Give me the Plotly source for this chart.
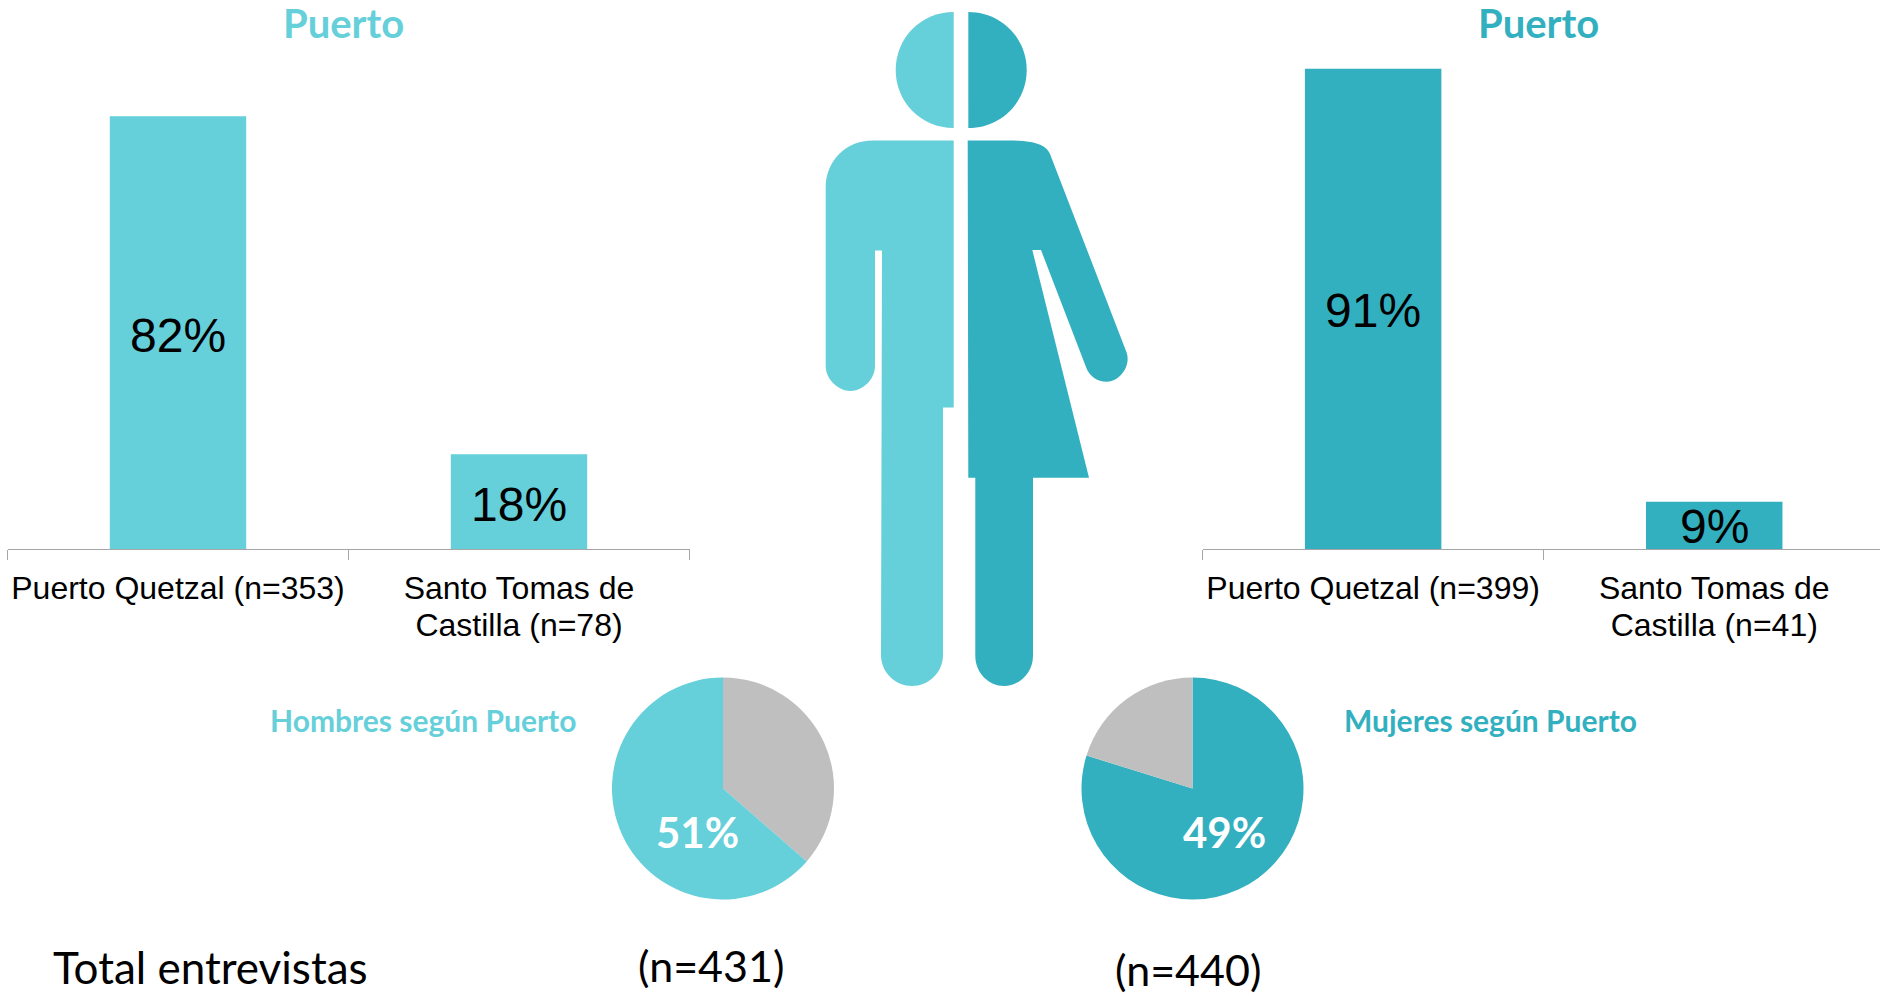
import plotly.graph_objects as go

W, H = 1880, 994
LIGHT = "#65CFDA"
DARK = "#33B0BF"
GREY = "#BFBFBF"

# Data
men_ports = [["Puerto Quetzal (n=353)"], ["Santo Tomas de", "Castilla (n=78)"]]
men_values = [82, 18]
men_labels = ["82%", "18%"]
women_ports = [["Puerto Quetzal (n=399)"], ["Santo Tomas de", "Castilla (n=41)"]]
women_values = [91, 9]
women_labels = ["91%", "9%"]
pie_men_values = [36.4, 63.6]
pie_women_values = [79.8, 20.2]

# Pictogram outlines, in page pixels
man_head = "M953.7,12 C921,12 895.7,38 895.7,70 C895.7,102 921,128 953.7,128 Z"
woman_head = "M968.3,12 C1001,12 1026.7,38 1026.7,70 C1026.7,102 1001,128 968.3,128 Z"
man_body = ("M953.7,140.6 L872.7,140.6 C846,140.6 825.7,161 825.7,187.5 L825.7,366 "
            "C825.7,380 839,391 850.5,391 C862,391 875,380 875,366 L875,250.4 L882,250.4 "
            "L881,655 C881,673 896,686 912,686 C928,686 943,673 943,655 L943,407.6 "
            "L953.7,407.6 Z")
woman_body = ("M967.7,140.6 L1010,140.6 C1030,140.6 1046,143 1050,154 L1126.7,352.7 "
              "C1131,366 1120,381.7 1106.7,381.7 C1097,381.7 1089,376 1086,367 L1041,250 "
              "L1032.3,250 L1089,477.7 L1033,477.7 L1033,656 C1033,673 1019,686 1004,686 "
              "C989,686 975.3,673 975.3,656 L975.3,477.7 L968.3,477.7 Z")

fig = go.Figure()


def ypos(px):
    return 1 - px / H


def tick_label(lines):
    # The axis font size sets the line spacing; the span sets the glyph size.
    return "<br>".join(f"<span style='font-size:32px'>{line}</span>" for line in lines)


men_x = [tick_label(p) for p in men_ports]
women_x = [tick_label(p) for p in women_ports]

fig.add_trace(go.Bar(x=men_x, y=men_values, marker_color=LIGHT, marker_line_width=0,
                     xaxis="x", yaxis="y", cliponaxis=False, showlegend=False))
fig.add_trace(go.Bar(x=women_x, y=women_values, marker_color=DARK, marker_line_width=0,
                     xaxis="x2", yaxis="y2", cliponaxis=False, showlegend=False))

R = 111
fig.add_trace(go.Pie(values=pie_men_values, sort=False, direction="clockwise", rotation=0,
                     marker=dict(colors=[GREY, LIGHT], line=dict(width=0)), textinfo="none",
                     hoverinfo="skip", showlegend=False,
                     domain=dict(x=[(723 - R) / W, (723 + R) / W], y=[ypos(788.5 + R), ypos(788.5 - R)])))
fig.add_trace(go.Pie(values=pie_women_values, sort=False, direction="clockwise", rotation=0,
                     marker=dict(colors=[DARK, GREY], line=dict(width=0)), textinfo="none",
                     hoverinfo="skip", showlegend=False,
                     domain=dict(x=[(1192.5 - R) / W, (1192.5 + R) / W], y=[ypos(788.5 + R), ypos(788.5 - R)])))

axis_common = dict(type="category", showgrid=False, zeroline=False, showline=True,
                   linecolor="#A6A6A6", linewidth=1, ticks="outside", ticklen=10,
                   tickwidth=1, tickcolor="#A6A6A6", tickson="boundaries", tickangle=0,
                   ticklabelstandoff=14,
                   tickfont=dict(size=28.5, color="black", family="Liberation Sans"))
y_common = dict(visible=False, range=[0, 100], domain=[ypos(549.3), ypos(21.3)])

annotations = []


def note(text, x, y, size, color, bold=False, family="Lato", anchor="center"):
    annotations.append(dict(text=f"<b>{text}</b>" if bold else text, x=x, y=y, xref="x3", yref="y3",
                            showarrow=False, xanchor=anchor, yanchor="middle",
                            font=dict(size=size, color=color, family=family)))


def bar_labels(xs, values, labels, xref, yref, shift):
    for x, v, label in zip(xs, values, labels):
        annotations.append(dict(text=label, x=x, y=v / 2, xref=xref, yref=yref, showarrow=False,
                                yshift=shift, xanchor="center", yanchor="middle",
                                font=dict(size=48, color="black", family="Liberation Sans")))


bar_labels(men_x, men_values, men_labels, "x", "y", -3)
bar_labels(women_x, women_values, women_labels, "x2", "y2", -1)

note("Puerto", 343, 23, 40, LIGHT, True)
note("Puerto", 1538, 23, 40, DARK, True)
note("Hombres según Puerto", 423, 720, 30, LIGHT, True)
note("Mujeres según Puerto", 1490.5, 720, 30, DARK, True)
note("51%", 697, 832, 42, "white", True)
note("49%", 1224, 832, 42, "white", True)
note("Total entrevistas", 51, 967, 44, "black", anchor="left")
note("(n=431)", 711, 965, 43, "black")
note("(n=440)", 1188, 969, 43, "black")

shapes = [dict(type="path", path=p, xref="x3", yref="y3", fillcolor=c, line_width=0, layer="above")
          for p, c in [(man_head, LIGHT), (man_body, LIGHT), (woman_head, DARK), (woman_body, DARK)]]

fig.update_layout(
    width=W, height=H, margin=dict(l=0, r=0, t=0, b=0), paper_bgcolor="white", plot_bgcolor="rgba(0,0,0,0)",
    bargap=0.6, showlegend=False,
    xaxis=dict(domain=[7.5 / W, 689.5 / W], range=[-0.5, 1.5], anchor="y", **axis_common),
    yaxis=dict(anchor="x", **y_common),
    xaxis2=dict(domain=[1202.6 / W, 1], range=[-0.5, 1.486], anchor="y2", **axis_common),
    yaxis2=dict(anchor="x2", **y_common),
    xaxis3=dict(domain=[0, 1], range=[0, W], visible=False, anchor="y3", fixedrange=True),
    yaxis3=dict(domain=[0, 1], range=[H, 0], visible=False, anchor="x3", fixedrange=True),
    annotations=annotations, shapes=shapes,
)

fig.add_trace(go.Scatter(x=[], y=[], xaxis="x3", yaxis="y3", showlegend=False))

fig.write_html("out.html", config=dict(displayModeBar=False),
               post_script="document.body.style.margin='0';document.body.style.overflow='hidden';")
